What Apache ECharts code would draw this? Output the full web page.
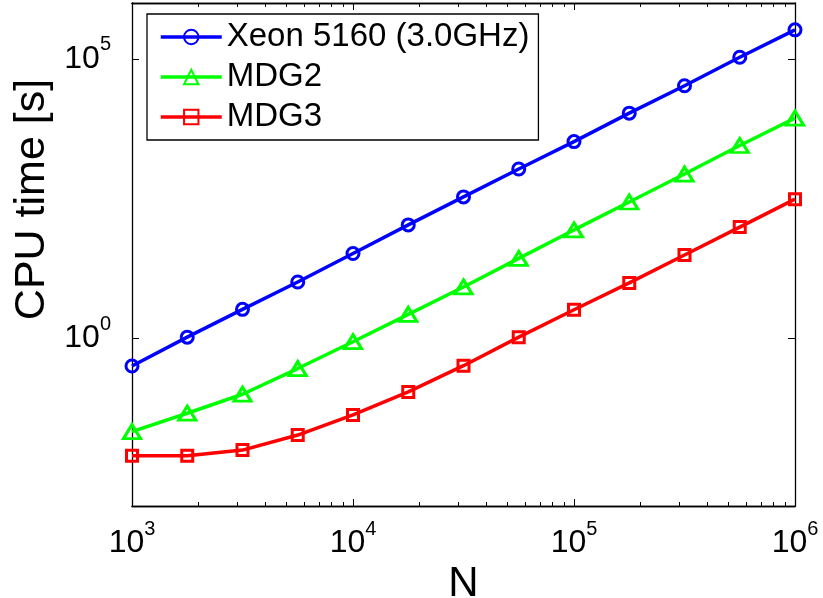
<!DOCTYPE html>
<html>
<head>
<meta charset="utf-8">
<script src="https://cdn.jsdelivr.net/npm/echarts@6/dist/echarts.min.js"></script>
<style>
html,body{margin:0;padding:0;background:#fff;}
#chart{width:823px;height:598px;}
</style>
</head>
<body>
<div id="chart"></div>
<script>
// ---- data ----
const N = [1000, 1778, 3162, 5623, 10000, 17783, 31623, 56234, 100000, 177828, 316228, 562341, 1000000];
const xeon = [0.32, 1.05, 3.3, 10.2, 33, 107, 339, 1070, 3310, 10700, 33100, 107000, 331000];
const mdg2 = [0.0214, 0.0457, 0.1, 0.288, 0.87, 2.69, 8.3, 26.9, 87, 275, 871, 2820, 8710];
const mdg3 = [0.0079, 0.0079, 0.01, 0.0186, 0.0427, 0.11, 0.324, 1.05, 3.24, 9.8, 30.9, 97.7, 309];
const seriesNames = ['Xeon 5160 (3.0GHz)', 'MDG2', 'MDG3'];
const xMajorTicks = [1000, 10000, 100000, 1000000];
const xMinorTicks = [2000, 3000, 4000, 5000, 6000, 7000, 8000, 9000,
  20000, 30000, 40000, 50000, 60000, 70000, 80000, 90000,
  200000, 300000, 400000, 500000, 600000, 700000, 800000, 900000];
const yTicks = [1, 100000];
const xName = 'N';
const yName = 'CPU time [s]';

const FONT = '"Liberation Sans", Arial, Helvetica, sans-serif';
const chart = echarts.init(document.getElementById('chart'), null, {renderer: 'canvas'});

const richPow = {
  b: {fontSize: 32, lineHeight: 32, verticalAlign: 'bottom', fontFamily: FONT, color: '#000'},
  s: {fontSize: 20, lineHeight: 40, verticalAlign: 'top', fontFamily: FONT, color: '#000'}
};
const powFmt = v => '{b|10}{s|' + Math.round(Math.log10(v)) + '}';

const axisLine = {show: true, onZero: false, lineStyle: {color: '#000', width: 1.3}};

function xAxisDef(pos, ticks, len, labels, name) {
  return {
    type: 'log', logBase: 10, min: 1000, max: 1000000, position: pos,
    axisLine: axisLine,
    axisTick: {show: true, inside: true, length: len, customValues: ticks, lineStyle: {color: '#000', width: 1}},
    axisLabel: labels ? {show: true, customValues: xMajorTicks, formatter: powFmt, rich: richPow, margin: 13} : {show: false},
    splitLine: {show: false}, minorTick: {show: false},
    name: name || '', nameLocation: 'middle', nameGap: 51,
    nameTextStyle: {fontSize: 42, fontFamily: FONT, color: '#000'}
  };
}
function yAxisDef(pos, labels, name) {
  return {
    type: 'log', logBase: 10, min: 0.001, max: 1000000, position: pos,
    axisLine: axisLine,
    axisTick: {show: true, inside: true, length: 7, customValues: yTicks, lineStyle: {color: '#000', width: 1}},
    axisLabel: labels ? {show: true, customValues: yTicks, formatter: powFmt, rich: richPow, margin: 21, padding: [0, 0, 8, 0]} : {show: false},
    splitLine: {show: false}, minorTick: {show: false},
    name: name || '', nameLocation: 'middle', nameGap: 75, nameRotate: 90,
    nameTextStyle: {fontSize: 43, fontFamily: FONT, color: '#000', padding: [0, 0, 0, 110]}
  };
}

function mkSeries(name, vals, color, symbol, size) {
  return {
    name: name, type: 'line', xAxisIndex: 0, yAxisIndex: 0,
    data: N.map((n, i) => [n, vals[i]]),
    symbol: symbol, symbolSize: size, showSymbol: true, clip: false,
    lineStyle: {color: color, width: 3.5},
    itemStyle: {color: 'rgba(255,255,255,0)', borderColor: color, borderWidth: 3},
    emphasis: {disabled: true},
    animation: false
  };
}

chart.setOption({
  backgroundColor: '#fff',
  animation: false,
  grid: {left: 132, right: 28, top: 3, bottom: 92, containLabel: false, outerBoundsMode: 'none'},
  xAxis: [
    xAxisDef('bottom', xMajorTicks, 7, true, xName),
    xAxisDef('bottom', xMinorTicks, 4, false),
    xAxisDef('top', xMajorTicks, 7, false),
    xAxisDef('top', xMinorTicks, 4, false)
  ],
  yAxis: [
    yAxisDef('left', true, yName),
    yAxisDef('right', false)
  ],
  legend: {
    show: true, orient: 'vertical', left: 147, top: 14,
    data: seriesNames,
    itemWidth: 61, itemHeight: 18, itemGap: 6,
    padding: [6, 9, 6, 12],
    borderColor: '#000', borderWidth: 1.3, backgroundColor: '#fff',
    selectedMode: false,
    lineStyle: {width: 3.5},
    textStyle: {fontSize: 33, lineHeight: 34, fontFamily: FONT, color: '#000'}
  },
  series: [
    mkSeries(seriesNames[0], xeon, '#0000ff', 'circle', 12),
    mkSeries(seriesNames[1], mdg2, '#00ff00', 'triangle', [17, 14]),
    mkSeries(seriesNames[2], mdg3, '#ff0000', 'rect', 11)
  ]
});
</script>
</body>
</html>
